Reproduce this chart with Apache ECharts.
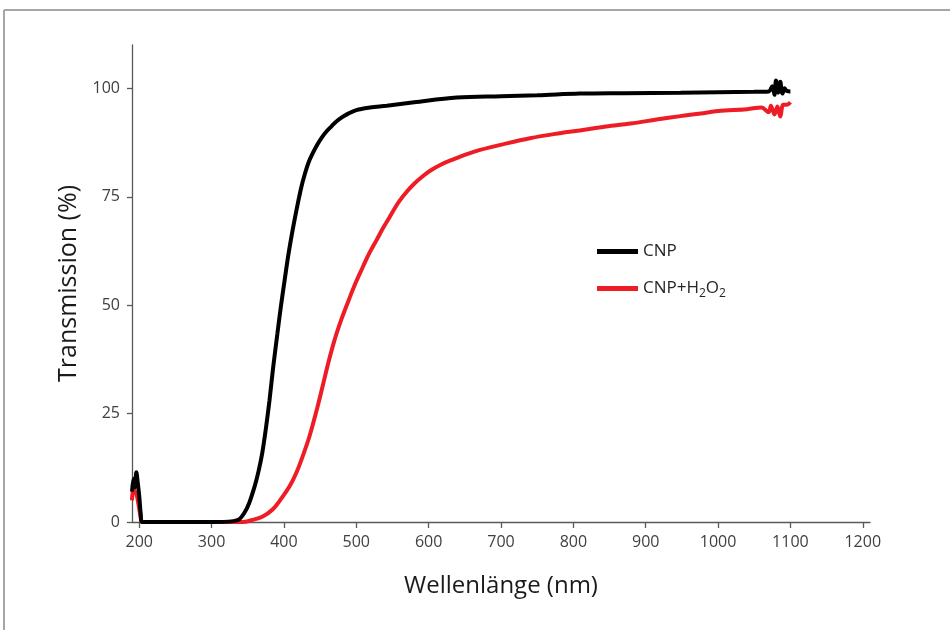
<!DOCTYPE html>
<html>
<head>
<meta charset="utf-8">
<script src="https://cdn.jsdelivr.net/npm/echarts@6/dist/echarts.min.js"></script>
<style>
html,body{margin:0;padding:0;background:#fff;}
#chart{width:950px;height:630px;}
</style>
</head>
<body>
<div id="chart"></div>
<script>
// Wavelength (nm) and transmission (%)
const cnpWavelength = [190,192,194,196,198,200,202,204,250,300,330,338,345,352,360,365,370,375,380,385,391,396,401,406,412,418,424,429,434,440,446,452,459,466,472,480,487,500,519,542,580,639,700,750,809,870,948,1000,1050,1070,1075,1078,1080,1083,1086,1089,1092,1095,1100];
const cnpTransmission = [7,10,8,11.5,9,6,2,0,0,0,0.2,0.6,2,4.4,8.5,11.8,15.9,21.5,28,35.5,43.5,50,55.8,61.5,67.3,72.5,77.2,80.3,82.9,85.1,87,88.6,90.1,91.3,92.3,93.3,94,95,95.6,96,96.8,97.9,98.2,98.4,98.8,98.9,99,99.1,99.2,99.3,100.5,98.5,101.8,99,101.5,98.8,100,99.4,99.3];

const h2o2Wavelength = [190,192,194,196,198,200,202,204,300,343,355,370,385,398,408,417,426,435,444,453,461,470,480,491,500,509,518,528,537,546,553,560,570,580,591,602,618,635,652,671,705,740,775,809,845,879,915,948,976,1000,1040,1060,1070,1073,1078,1082,1086,1090,1095,1100];
const h2o2Transmission = [5,8,7,6.5,5,3,1,0,0,0,0.4,1.2,3,5.8,8.3,11.3,15.2,19.6,25,31,36.5,42,47,51.8,55.5,58.8,62,65,67.8,70.3,72.3,74.1,76.2,78,79.6,81,82.5,83.7,84.8,85.8,87.2,88.5,89.5,90.3,91.2,91.9,92.8,93.6,94.2,94.8,95.2,95.6,94.5,96,94,95.8,93.5,96.2,96.2,96.8];

const seriesNames = ['CNP', 'CNP+H2O2'];
const xTicks = [200,300,400,500,600,700,800,900,1000,1100,1200];
const yTicks = [0,25,50,75,100];

function pairs(xs, ys){ return xs.map((x,i)=>[x, ys[i]]); }

const chart = echarts.init(document.getElementById('chart'), null, {renderer:'canvas'});
const FONT = 'Open Sans';
chart.setOption({
  animation: false,
  backgroundColor: '#fff',
  graphic: [
    {type:'line', shape:{x1:4, y1:10, x2:950, y2:10}, style:{stroke:'#a6a6a6', lineWidth:2}, silent:true},
    {type:'line', shape:{x1:4, y1:10, x2:4, y2:630}, style:{stroke:'#a6a6a6', lineWidth:2}, silent:true}
  ],
  grid: {left:132, right:80, top:45, bottom:108, containLabel:false},
  legend: {
    orient:'vertical', left:592, top:238, itemWidth:41, itemHeight:5, itemGap:20,
    icon:'rect',
    data: seriesNames,
    formatter: function(name){
      if (name === 'CNP+H2O2') return '{n|CNP+H}{s|2}{n|O}{s|2}';
      return '{n|' + name + '}';
    },
    textStyle: {
      fontFamily: FONT, color:'#262626',
      rich: {
        n: {fontSize:17, fontFamily:FONT, color:'#262626', lineHeight:22, verticalAlign:'middle'},
        s: {fontSize:12, fontFamily:FONT, color:'#262626', lineHeight:22, verticalAlign:'bottom'}
      }
    }
  },
  xAxis: {
    type:'value', min:190, max:1210,
    name:'Wellenlänge (nm)', nameLocation:'middle', nameGap:52,
    nameTextStyle:{fontFamily:FONT, fontSize:24, color:'#1a1a1a'},
    axisLine:{show:true, onZero:false, lineStyle:{color:'#595959', width:1.3}},
    axisTick:{show:true, length:6, inside:false, customValues:xTicks, lineStyle:{color:'#595959', width:1.3}},
    axisLabel:{customValues:xTicks, formatter:function(v){return String(v);}, fontFamily:FONT, fontSize:16, color:'#404040', margin:12},
    splitLine:{show:false}
  },
  yAxis: {
    type:'value', min:0, max:110,
    name:'Transmission (%)', nameLocation:'middle', nameGap:50, nameRotate:90,
    nameTextStyle:{fontFamily:FONT, fontSize:25, color:'#1a1a1a'},
    axisLine:{show:true, lineStyle:{color:'#595959', width:1.3}},
    axisTick:{show:true, length:5, inside:false, customValues:yTicks, lineStyle:{color:'#595959', width:1.3}},
    axisLabel:{customValues:yTicks, formatter:function(v){return String(v);}, fontFamily:FONT, fontSize:16, color:'#404040', margin:12},
    splitLine:{show:false}
  },
  series: [
    {
      name: seriesNames[0], type:'line', data: pairs(cnpWavelength, cnpTransmission),
      showSymbol:false, smooth:0.35, z:4,
      lineStyle:{color:'#000000', width:4}, itemStyle:{color:'#000000'}
    },
    {
      name: seriesNames[1], type:'line', data: pairs(h2o2Wavelength, h2o2Transmission),
      showSymbol:false, smooth:0.35, z:3,
      lineStyle:{color:'#ee1c25', width:4}, itemStyle:{color:'#ee1c25'}
    }
  ]
});
</script>
</body>
</html>
